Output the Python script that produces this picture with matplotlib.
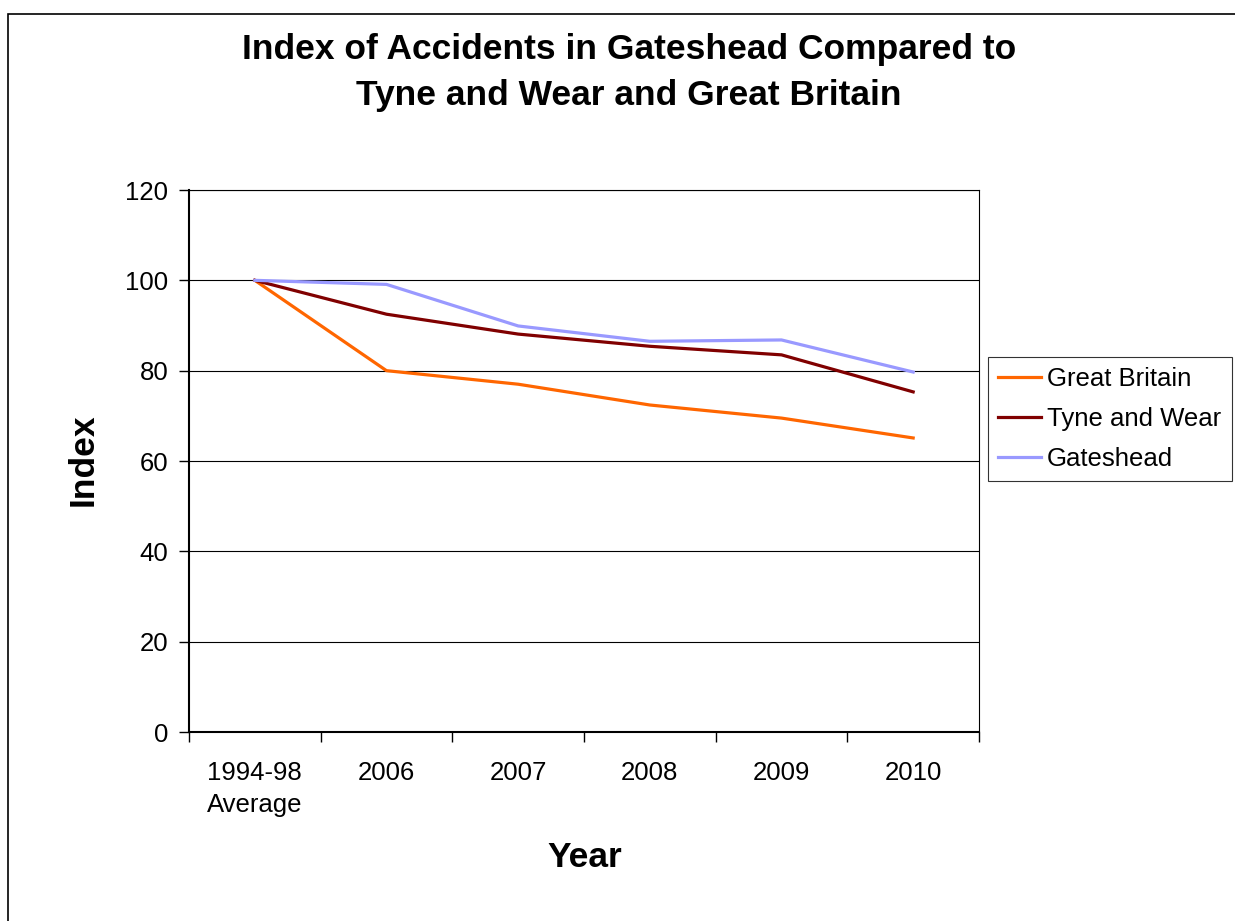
import matplotlib.pyplot as plt
from matplotlib.patches import Rectangle

plt.rcParams['font.family'] = ['Liberation Sans', 'DejaVu Sans']

categories = ['1994-98\nAverage', '2006', '2007', '2008', '2009', '2010']
great_britain = [100, 80.0, 77.0, 72.4, 69.5, 65.1]
tyne_and_wear = [100, 92.5, 88.1, 85.4, 83.5, 75.3]
gateshead = [100, 99.1, 89.9, 86.5, 86.8, 79.7]

fig = plt.figure(figsize=(12.35, 9.21), dpi=100)
ax = fig.add_axes([189/1235, 1 - 732/921, 790/1235, 542/921])

x = range(len(categories))
ax.plot(x, great_britain, color='#FF6600', lw=2.3, label='Great Britain')
ax.plot(x, tyne_and_wear, color='#800000', lw=2.3, label='Tyne and Wear')
ax.plot(x, gateshead, color='#9999FF', lw=2.3, label='Gateshead')

ax.set_xlim(-0.5, len(categories) - 0.5)
ax.set_ylim(0, 120)
ax.set_yticks(range(0, 121, 20))
ax.yaxis.grid(True, color='black', lw=0.8)
ax.set_axisbelow(True)

ax.set_xticks(x)
ax.set_xticklabels(categories, fontsize=18.5, linespacing=1.42)
ax.tick_params(axis='x', length=0, pad=21)
ax.set_xticks([i - 0.5 for i in range(len(categories) + 1)], minor=True)
ax.tick_params(axis='x', which='minor', length=7, direction='out', width=1)
ax.tick_params(axis='y', labelsize=18.5, length=7, width=1, pad=8)

for s in ['left', 'bottom']:
    ax.spines[s].set_linewidth(1.5)
for s in ['top', 'right']:
    ax.spines[s].set_linewidth(0.8)

fig.text(629/1235, 1 - 50/921, 'Index of Accidents in Gateshead Compared to',
         ha='center', va='center', fontsize=25.5, fontweight='bold')
fig.text(629/1235, 1 - 96/921, 'Tyne and Wear and Great Britain',
         ha='center', va='center', fontsize=25.5, fontweight='bold')
fig.text(83/1235, 1 - 460/921, 'Index', rotation=90,
         ha='center', va='center', fontsize=25.5, fontweight='bold')
fig.text(585/1235, 1 - 857/921, 'Year',
         ha='center', va='center', fontsize=25.5, fontweight='bold')

leg = ax.legend(loc='upper left', bbox_to_anchor=(988/1235, 1 - 357/921),
                bbox_transform=fig.transFigure, fontsize=18.5, frameon=True,
                fancybox=False, edgecolor='black', handlelength=1.65,
                handletextpad=0.25, borderpad=0.4, labelspacing=0.62,
                borderaxespad=0)
leg.get_frame().set_linewidth(0.8)

fig.patches.append(Rectangle((8/1235, -0.05), 1.1, 1 - 14/921 + 0.05,
                             transform=fig.transFigure, fill=False,
                             edgecolor='black', lw=1.2))

fig.savefig('out.png', dpi=100)
